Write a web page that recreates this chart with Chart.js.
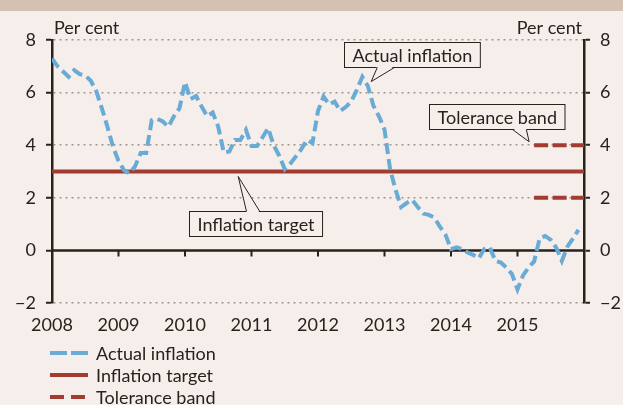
<!DOCTYPE html>
<html>
<head>
<meta charset="utf-8">
<title>Inflation</title>
<script src="https://cdn.jsdelivr.net/npm/chart.js@4/dist/chart.umd.min.js"></script>
<style>
  html, body { margin: 0; padding: 0; background: #f6eeeb; }
  #wrap { position: relative; width: 623px; height: 405px; }
  #band { position: absolute; left: 0; top: 0; width: 623px; height: 11px; background: #d3c1b1; }
  canvas { position: absolute; left: 0; top: 0; }
</style>
</head>
<body>
<div id="wrap"><div id="band"></div><canvas id="chart" width="623" height="405"></canvas></div>
<script>
// CPI inflation, monthly, Jan 2008 - Dec 2015 (per cent)
var yearLabels = ['2008', '2009', '2010', '2011', '2012', '2013', '2014', '2015'];
var inflation2008 = [7.3, 7.0, 6.8, 6.6, 6.85, 6.7, 6.65, 6.45, 6.05, 5.4, 4.7, 3.95];
var inflation2009 = [3.4, 3.05, 2.93, 3.2, 3.7, 3.7, 4.95, 5.0, 4.9, 4.7, 5.1, 5.4];
var inflation2010 = [6.4, 5.75, 5.87, 5.47, 5.1, 5.24, 4.7, 3.72, 3.76, 4.2, 4.2, 4.58];
var inflation2011 = [3.97, 3.97, 4.3, 4.65, 4.0, 3.6, 3.09, 3.3, 3.57, 3.85, 4.2, 4.08];
var inflation2012 = [5.3, 5.85, 5.55, 5.66, 5.3, 5.45, 5.66, 6.1, 6.6, 6.25, 5.5, 5.1];
var inflation2013 = [4.6, 3.1, 2.3, 1.65, 1.8, 1.92, 1.65, 1.4, 1.35, 1.25, 0.9, 0.6];
var inflation2014 = [0.05, 0.12, 0.05, -0.08, -0.17, -0.3, 0.05, 0.12, -0.4, -0.46, -0.65, -0.9];
var inflation2015 = [-1.48, -0.95, -0.65, -0.42, 0.46, 0.55, 0.4, 0.1, -0.4, 0.14, 0.45, 0.78];

var targetValue = 3;
var toleranceUpper = 4;
var toleranceLower = 2;
var toleranceFromMonth = 87;   // band drawn from Apr 2015
var lastMonth = 96;

var ink = '#2a211d';
var bg = '#f6eeeb';
var blue = '#68abd5';
var red = '#a23b30';
var grey = '#9b9591';
var font = 'Lato';

var actual = [].concat(inflation2008, inflation2009, inflation2010, inflation2011,
  inflation2012, inflation2013, inflation2014, inflation2015)
  .map(function (v, i) { return { x: i, y: v }; });

// callouts, anchored in data units (month index, per cent)
var callouts = [
  { text: 'Actual inflation', cx: 64.9, cy: 7.46, tipX: 57.6, tipY: 6.42, base: [58.7, 61.8] },
  { text: 'Tolerance band', cx: 80.3, cy: 5.08, tipX: 86.1, tipY: 4.13, base: [83.1, 85.6] },
  { text: 'Inflation target', cx: 36.7, cy: 1.03, tipX: 33.6, tipY: 2.81, base: [35.1, 37.5] }
];

var decor = {
  id: 'decor',
  beforeDatasetsDraw: function (chart) {
    var ctx = chart.ctx, a = chart.chartArea, x = chart.scales.x, y = chart.scales.y;
    var y0 = y.getPixelForValue(0);
    ctx.save();
    ctx.strokeStyle = ink;
    ctx.lineWidth = 2.5;
    ctx.beginPath();
    ctx.moveTo(a.left, y0);
    ctx.lineTo(a.right, y0);
    ctx.stroke();
    ctx.lineWidth = 2;
    ctx.beginPath();
    for (var m = 12; m < lastMonth; m += 12) {
      var px = x.getPixelForValue(m);
      ctx.moveTo(px, y0);
      ctx.lineTo(px, y0 + 6);
    }
    ctx.stroke();
    ctx.restore();
  },
  afterDraw: function (chart) {
    var ctx = chart.ctx, a = chart.chartArea, x = chart.scales.x, y = chart.scales.y;
    ctx.save();
    ctx.font = '18px ' + font;
    ctx.fillStyle = ink;
    ctx.textBaseline = 'alphabetic';
    ctx.textAlign = 'left';
    ctx.fillText('Per cent', a.left + 2, a.top - 6);
    ctx.textAlign = 'right';
    ctx.fillText('Per cent', a.right - 2, a.top - 6);

    // callouts
    callouts.forEach(function (c) {
      var w = ctx.measureText(c.text).width + 16, h = 25;
      var cx = x.getPixelForValue(c.cx), cy = y.getPixelForValue(c.cy);
      var l = Math.round(cx - w / 2) + 0.5, t = Math.round(cy - h / 2) + 0.5;
      var tx = x.getPixelForValue(c.tipX), ty = y.getPixelForValue(c.tipY);
      var b1 = x.getPixelForValue(c.base[0]), b2 = x.getPixelForValue(c.base[1]);
      var by = ty < t ? t : t + h;
      var inward = ty < t ? 1.5 : -1.5;
      ctx.fillStyle = bg;
      ctx.strokeStyle = ink;
      ctx.lineWidth = 1;
      ctx.fillRect(l, t, w, h);
      ctx.strokeRect(l, t, w, h);
      ctx.beginPath();
      ctx.moveTo(b1, by + inward);
      ctx.lineTo(tx, ty);
      ctx.lineTo(b2, by + inward);
      ctx.closePath();
      ctx.fill();
      ctx.beginPath();
      ctx.moveTo(b1, by);
      ctx.lineTo(tx, ty);
      ctx.lineTo(b2, by);
      ctx.stroke();
      ctx.fillStyle = ink;
      ctx.textAlign = 'center';
      ctx.textBaseline = 'middle';
      ctx.fillText(c.text, l + w / 2, t + h / 2 + 1);
    });

    // legend, one row per label
    var seen = {};
    var row = 0;
    chart.data.datasets.forEach(function (ds) {
      if (seen[ds.label]) return;
      seen[ds.label] = true;
      var ry = 353 + row * 22;
      ctx.strokeStyle = ds.borderColor;
      ctx.lineWidth = 4;
      ctx.setLineDash(ds.legendDash || []);
      ctx.beginPath();
      ctx.moveTo(50, ry);
      ctx.lineTo(88, ry);
      ctx.stroke();
      ctx.setLineDash([]);
      ctx.fillStyle = ink;
      ctx.textAlign = 'left';
      ctx.textBaseline = 'middle';
      ctx.fillText(ds.label, 96, ry + 1);
      row++;
    });
    ctx.restore();
  }
};

function minusSign(v) { return String(v).replace('-', '\u2212'); }

function yAxis(position) {
  var right = position === 'right';
  return {
    position: position,
    min: -2,
    max: 8,
    ticks: { stepSize: 2, padding: 10, color: ink, font: { family: font, size: 18 }, callback: minusSign },
    grid: {
      drawOnChartArea: !right,
      color: function (c) { return c.tick && c.tick.value === 0 ? 'rgba(0,0,0,0)' : grey; },
      lineWidth: 1.5,
      tickColor: ink,
      tickLength: 6,
      tickWidth: 2
    },
    border: { color: ink, width: 2.5, dash: [2, 4] },
    afterFit: function (s) { s.width = right ? 39 : 52; }
  };
}

function draw() {
  new Chart(document.getElementById('chart'), {
    type: 'line',
    data: {
      datasets: [
        { label: 'Actual inflation', data: actual, borderColor: blue, borderWidth: 4,
          borderDash: [11, 5], legendDash: [17, 4], pointRadius: 0, tension: 0, yAxisID: 'y' },
        { label: 'Inflation target', data: [{ x: 0, y: targetValue }, { x: lastMonth, y: targetValue }],
          borderColor: red, borderWidth: 4, pointRadius: 0, yAxisID: 'y' },
        { label: 'Tolerance band', data: [{ x: toleranceFromMonth, y: toleranceUpper }, { x: lastMonth, y: toleranceUpper }],
          borderColor: red, borderWidth: 4, borderDash: [14, 4.5], legendDash: [14, 7], pointRadius: 0, yAxisID: 'y' },
        { label: 'Tolerance band', data: [{ x: toleranceFromMonth, y: toleranceLower }, { x: lastMonth, y: toleranceLower }],
          borderColor: red, borderWidth: 4, borderDash: [14, 4.5], legendDash: [14, 7], pointRadius: 0, yAxisID: 'y' }
      ]
    },
    options: {
      responsive: false,
      animation: false,
      layout: { padding: { top: 40, bottom: 60, left: 0, right: 0 } },
      plugins: { legend: { display: false }, tooltip: { enabled: false } },
      scales: {
        x: {
          type: 'linear',
          min: 0,
          max: lastMonth,
          grid: { display: false, drawTicks: false },
          border: { display: false },
          ticks: {
            stepSize: 12, autoSkip: false, maxRotation: 0, padding: 11,
            color: ink, font: { family: font, size: 18 },
            callback: function (v) { return v < lastMonth ? yearLabels[v / 12] : ''; }
          },
          afterFit: function (s) { s.height = 42; }
        },
        y: yAxis('left'),
        y2: yAxis('right')
      }
    },
    plugins: [decor]
  });
}

if (document.fonts && document.fonts.load) {
  document.fonts.load('18px ' + font).then(draw, draw);
} else {
  draw();
}
</script>
</body>
</html>
